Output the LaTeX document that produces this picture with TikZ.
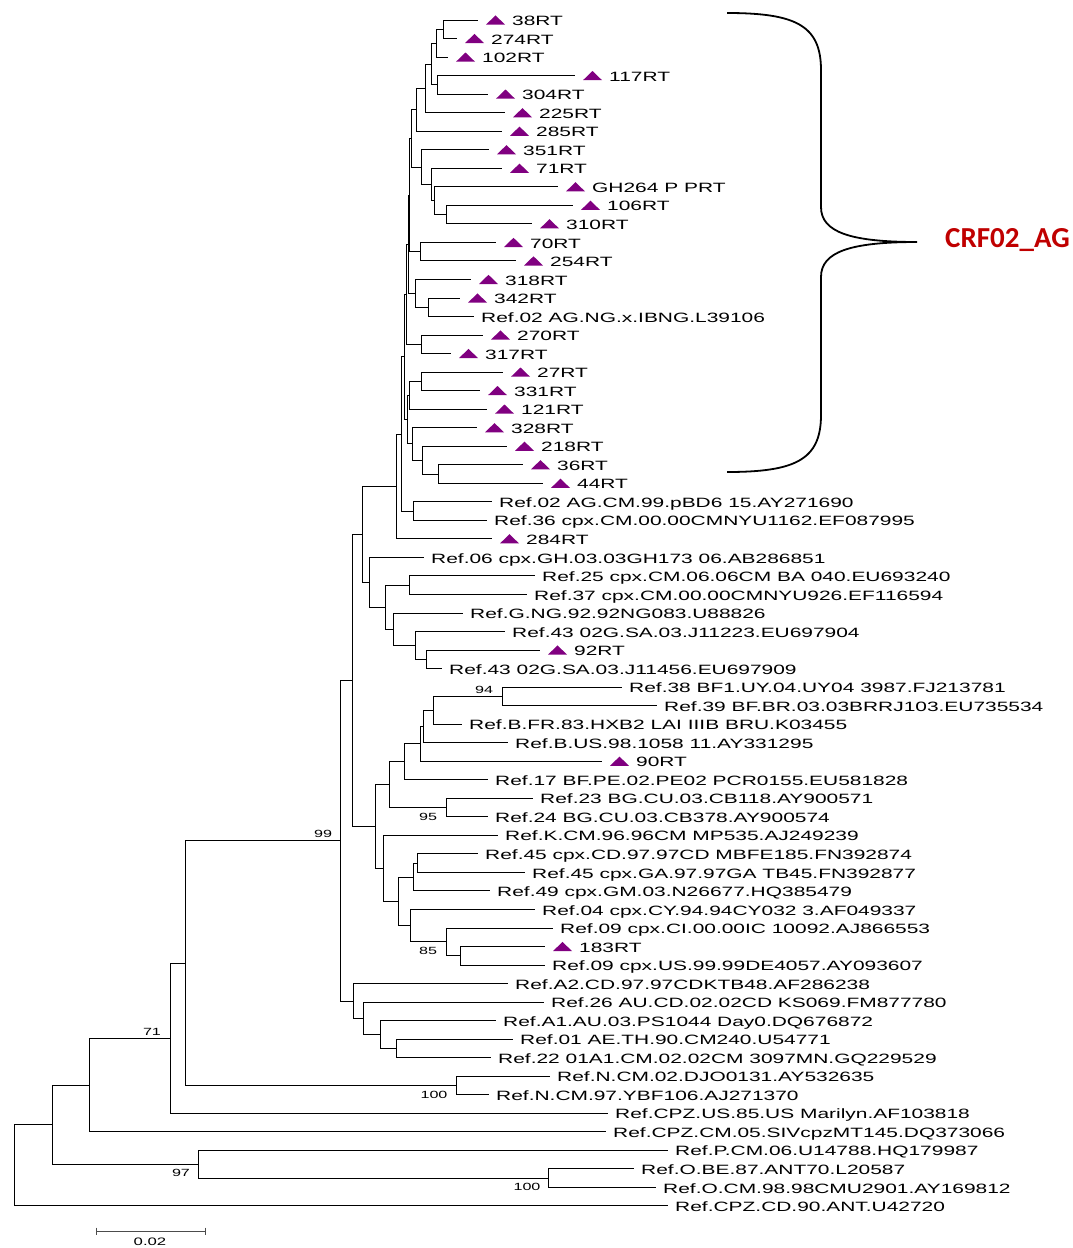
\documentclass[tikz,border=0pt]{standalone}
\usepackage{fontspec}
\usetikzlibrary{calc}
\newfontfamily\lblfont[FakeStretch=1.55]{Liberation Sans}
\newfontfamily\crffont{Carlito}
\definecolor{tricol}{HTML}{800080}
\definecolor{crfcol}{HTML}{C00000}
\tikzset{
  br/.style={line width=0.9pt, black},
  lbl/.style={anchor=base west, inner sep=0pt, font=\lblfont\fontsize{13.5}{16}\selectfont},
  boot/.style={inner sep=0pt, font=\lblfont\fontsize{10.4}{12}\selectfont},
}
\newcommand\inode[4]{\path let \p1=($(#3)!.5!(#4)$) in coordinate (#1) at (#2pt,\y1);
  \draw[br] (#1) |- (#3); \draw[br] (#1) |- (#4);}
\newcommand\leafR[4]{\coordinate (#1) at (#2,#3);
  \node[lbl] (#1t) at ([xshift=7pt,yshift=-5.6pt]#1) {#4};}
\newcommand\leafT[4]{\coordinate (#1) at (#2,#3);
  \fill[tricol] ([xshift=8pt,yshift=-4.6pt]#1) -- ++(19pt,0pt) -- ++(-9.5pt,9.2pt) -- cycle;
  \node[lbl] (#1t) at ([xshift=34pt,yshift=-5.6pt]#1) {#4};}
\begin{document}
\begin{tikzpicture}[x=1pt,y=-1pt]
\fill[white] (0,0) rectangle (1072,1248);
\useasboundingbox (0,0) rectangle (1072,1248);
% leaves
\leafT{l1}{478}{20.0}{38RT}
\leafT{l2}{457}{38.5}{274RT}
\leafT{l3}{448}{57.1}{102RT}
\leafT{l4}{575}{75.6}{117RT}
\leafT{l5}{488}{94.1}{304RT}
\leafT{l6}{505}{112.7}{225RT}
\leafT{l7}{502}{131.2}{285RT}
\leafT{l8}{489}{149.7}{351RT}
\leafT{l9}{502}{168.2}{71RT}
\leafT{l10}{558}{186.8}{GH264 P PRT}
\leafT{l11}{573}{205.3}{106RT}
\leafT{l12}{532}{223.8}{310RT}
\leafT{l13}{496}{242.4}{70RT}
\leafT{l14}{516}{260.9}{254RT}
\leafT{l15}{471}{279.4}{318RT}
\leafT{l16}{460}{298.0}{342RT}
\leafR{l17}{474}{316.5}{Ref.02 AG.NG.x.IBNG.L39106}
\leafT{l18}{483}{335.0}{270RT}
\leafT{l19}{451}{353.5}{317RT}
\leafT{l20}{503}{372.1}{27RT}
\leafT{l21}{480}{390.6}{331RT}
\leafT{l22}{487}{409.1}{121RT}
\leafT{l23}{477}{427.7}{328RT}
\leafT{l24}{507}{446.2}{218RT}
\leafT{l25}{523}{464.7}{36RT}
\leafT{l26}{543}{483.3}{44RT}
\leafR{l27}{492}{501.8}{Ref.02 AG.CM.99.pBD6 15.AY271690}
\leafR{l28}{487}{520.3}{Ref.36 cpx.CM.00.00CMNYU1162.EF087995}
\leafT{l29}{492}{538.8}{284RT}
\leafR{l30}{424}{557.4}{Ref.06 cpx.GH.03.03GH173 06.AB286851}
\leafR{l31}{535}{575.9}{Ref.25 cpx.CM.06.06CM BA 040.EU693240}
\leafR{l32}{527}{594.4}{Ref.37 cpx.CM.00.00CMNYU926.EF116594}
\leafR{l33}{463}{613.0}{Ref.G.NG.92.92NG083.U88826}
\leafR{l34}{505}{631.5}{Ref.43 02G.SA.03.J11223.EU697904}
\leafT{l35}{540}{650.0}{92RT}
\leafR{l36}{442}{668.6}{Ref.43 02G.SA.03.J11456.EU697909}
\leafR{l37}{622}{687.1}{Ref.38 BF1.UY.04.UY04 3987.FJ213781}
\leafR{l38}{657}{705.6}{Ref.39 BF.BR.03.03BRRJ103.EU735534}
\leafR{l39}{462}{724.1}{Ref.B.FR.83.HXB2 LAI IIIB BRU.K03455}
\leafR{l40}{508}{742.7}{Ref.B.US.98.1058 11.AY331295}
\leafT{l41}{602}{761.2}{90RT}
\leafR{l42}{488}{779.7}{Ref.17 BF.PE.02.PE02 PCR0155.EU581828}
\leafR{l43}{533}{798.3}{Ref.23 BG.CU.03.CB118.AY900571}
\leafR{l44}{488}{816.8}{Ref.24 BG.CU.03.CB378.AY900574}
\leafR{l45}{498}{835.3}{Ref.K.CM.96.96CM MP535.AJ249239}
\leafR{l46}{478}{853.9}{Ref.45 cpx.CD.97.97CD MBFE185.FN392874}
\leafR{l47}{525}{872.4}{Ref.45 cpx.GA.97.97GA TB45.FN392877}
\leafR{l48}{490}{890.9}{Ref.49 cpx.GM.03.N26677.HQ385479}
\leafR{l49}{535}{909.4}{Ref.04 cpx.CY.94.94CY032 3.AF049337}
\leafR{l50}{553}{928.0}{Ref.09 cpx.CI.00.00IC 10092.AJ866553}
\leafT{l51}{545}{946.5}{183RT}
\leafR{l52}{545}{965.0}{Ref.09 cpx.US.99.99DE4057.AY093607}
\leafR{l53}{508}{983.6}{Ref.A2.CD.97.97CDKTB48.AF286238}
\leafR{l54}{544}{1002.1}{Ref.26 AU.CD.02.02CD KS069.FM877780}
\leafR{l55}{496}{1020.6}{Ref.A1.AU.03.PS1044 Day0.DQ676872}
\leafR{l56}{513}{1039.2}{Ref.01 AE.TH.90.CM240.U54771}
\leafR{l57}{491}{1057.7}{Ref.22 01A1.CM.02.02CM 3097MN.GQ229529}
\leafR{l58}{550}{1076.2}{Ref.N.CM.02.DJO0131.AY532635}
\leafR{l59}{489}{1094.7}{Ref.N.CM.97.YBF106.AJ271370}
\leafR{l60}{608}{1113.3}{Ref.CPZ.US.85.US Marilyn.AF103818}
\leafR{l61}{606}{1131.8}{Ref.CPZ.CM.05.SIVcpzMT145.DQ373066}
\leafR{l62}{668}{1150.3}{Ref.P.CM.06.U14788.HQ179987}
\leafR{l63}{634}{1168.9}{Ref.O.BE.87.ANT70.L20587}
\leafR{l64}{656}{1187.4}{Ref.O.CM.98.98CMU2901.AY169812}
\leafR{l65}{668}{1205.9}{Ref.CPZ.CD.90.ANT.U42720}
% internal nodes
\inode{n1}{443}{l1}{l2}
\inode{n2}{436}{n1}{l3}
\inode{n4}{437}{l4}{l5}
\inode{n3}{431}{n2}{n4}
\inode{n5}{425}{n3}{l6}
\inode{n6}{416}{n5}{l7}
\inode{n10}{446}{l11}{l12}
\inode{n9}{434}{l10}{n10}
\inode{n8}{431}{l9}{n9}
\inode{n7}{421}{l8}{n8}
\inode{P1}{411}{n6}{n7}
\inode{n11}{420}{l13}{l14}
\inode{n12}{428}{l16}{l17}
\inode{n13}{415}{l15}{n12}
\inode{n14}{421}{l18}{l19}
\inode{Q1}{409}{P1}{n11}
\inode{Q2}{408}{Q1}{n13}
\inode{Q3}{406}{Q2}{n14}
\inode{n15}{421}{l20}{l21}
\inode{n16}{409}{n15}{l22}
\inode{n20}{438}{l25}{l26}
\inode{n19}{422}{l24}{n20}
\inode{n18}{412}{l23}{n19}
\inode{n17}{407}{n16}{n18}
\inode{P3}{404}{Q3}{n17}
\inode{n21}{413}{l27}{l28}
\inode{N2}{401}{P3}{n21}
\inode{M}{396}{N2}{l29}
\inode{S}{409}{l31}{l32}
\inode{V}{426}{l35}{l36}
\inode{U}{415}{l34}{V}
\inode{T}{393}{l33}{U}
\inode{R}{385}{S}{T}
\inode{Q}{369}{l30}{R}
\inode{K}{362}{M}{Q}
\inode{AD}{502}{l37}{l38}
\inode{AC}{433}{AD}{l39}
\inode{AB}{423}{AC}{l40}
\inode{AA}{420}{AB}{l41}
\inode{Y}{404}{AA}{l42}
\inode{Z}{446}{l43}{l44}
\inode{W}{389}{Y}{Z}
\inode{AH}{417}{l46}{l47}
\inode{AF}{413}{AH}{l48}
\inode{AJ}{460}{l51}{l52}
\inode{AI}{446}{l50}{AJ}
\inode{AG}{410}{l49}{AI}
\inode{AE}{398}{AF}{AG}
\inode{X}{383}{l45}{AE}
\inode{L}{375}{W}{X}
\inode{F}{352}{K}{L}
\inode{J}{396}{l56}{l57}
\inode{I}{380}{l55}{J}
\inode{H}{363}{l54}{I}
\inode{G}{353}{l53}{H}
\inode{E}{340}{F}{G}
\inode{N}{456}{l58}{l59}
\inode{D}{185}{E}{N}
\inode{C}{170}{D}{l60}
\inode{B}{89.5}{C}{l61}
\inode{O}{548}{l63}{l64}
\inode{PO}{198}{l62}{O}
\inode{A}{52}{B}{PO}
\inode{root}{14}{A}{l65}
% bootstrap values
\node[boot] (b99) at ([xshift=-17pt,yshift=7pt]E) {99};
\node[boot] (b71) at ([xshift=-18pt,yshift=6pt]C) {71};
\node[boot] (b97) at ([xshift=-17pt,yshift=-9pt]PO) {97};
\node[boot] (b100a) at ([xshift=-22pt,yshift=-9pt]N) {100};
\node[boot] (b100b) at ([xshift=-21pt,yshift=-9pt]O) {100};
\node[boot] (b94) at ([xshift=-18pt,yshift=6pt]AD) {94};
\node[boot] (b95) at ([xshift=-18pt,yshift=-9pt]Z) {95};
\node[boot] (b85) at ([xshift=-18pt,yshift=-9pt]AI) {85};
% scale bar
\coordinate (sb1) at (96,1231);
\coordinate (sb2) at (205,1231);
\draw[line width=1pt, black!70] (sb1) -- (sb2);
\draw[line width=1pt, black!70] ([yshift=3.5pt]sb1) -- ([yshift=-3.5pt]sb1);
\draw[line width=1pt, black!70] ([yshift=3.5pt]sb2) -- ([yshift=-3.5pt]sb2);
\node[boot, font=\lblfont\fontsize{10.8}{12}\selectfont] (sbl) at (150,1242) {0.02};
% brace
\draw[line width=1.8pt] (727,13) .. controls (795,13) and (821,25) .. (821,70)
  -- (821,207) .. controls (821,232) and (850,242) .. (917,242)
  .. controls (850,242) and (821,252) .. (821,277)
  -- (821,415) .. controls (821,460) and (795,472) .. (727,472);
\node[inner sep=0pt, anchor=base west, text=crfcol, font=\crffont\bfseries\fontsize{29}{33}\selectfont] (crf) at (945,247) {CRF02\_AG};
\end{tikzpicture}
\end{document}
